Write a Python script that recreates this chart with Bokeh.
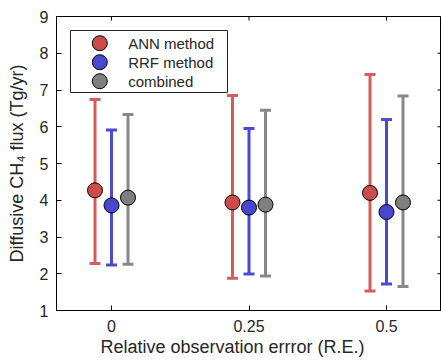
from bokeh.plotting import figure
from bokeh.models import (ColumnDataSource, FixedTicker, Range1d, BoxAnnotation, Title)
from bokeh.core.properties import value
from bokeh.transform import dodge
from bokeh.embed import file_html
from bokeh.resources import INLINE

# ---- data ----
re_values = [0.0, 0.25, 0.5]
xtick_labels = ["0", "0.25", "0.5"]
yticks = [1, 2, 3, 4, 5, 6, 7, 8, 9]
x_min, x_max = -0.1, 0.6
y_min, y_max = 1, 9

series_names = ["ANN method", "RRF method", "combined"]

ann_mean = [4.27, 3.94, 4.20]
ann_low = [2.28, 1.88, 1.53]
ann_high = [6.74, 6.85, 7.42]

rrf_mean = [3.86, 3.80, 3.68]
rrf_low = [2.24, 1.99, 1.72]
rrf_high = [5.91, 5.95, 6.20]

comb_mean = [4.07, 3.88, 3.94]
comb_low = [2.26, 1.94, 1.65]
comb_high = [6.33, 6.45, 6.84]

FONT = "Liberation Sans"
TXT = "#262626"
FW, FH = 385, 294

p = figure(frame_width=FW, frame_height=FH,
           x_range=Range1d(x_min, x_max), y_range=Range1d(y_min, y_max),
           output_backend="svg", toolbar_location=None,
           min_border_left=56, min_border_top=16, min_border_bottom=52, min_border_right=0)
p.grid.visible = False
p.outline_line_color = "black"
p.background_fill_color = "white"
p.border_fill_color = "white"

# pixel-like ranges for the hand-made legend (origin at frame top-left)
p.extra_x_ranges = {"lgx": Range1d(0, FW)}
p.extra_y_ranges = {"lgy": Range1d(FH, 0)}

series = [
    (ann_mean, ann_low, ann_high, -0.03, "#cc4b4b", "#d65c5c"),
    (rrf_mean, rrf_low, rrf_high, 0.0, "#4747cf", "#4b4bd2"),
    (comb_mean, comb_low, comb_high, 0.03, "#7f7f7f", "#888888"),
]

for mean, low, high, off, fill, barc in series:
    src = ColumnDataSource(dict(x=re_values, mean=mean, low=low, high=high))
    xd = dodge("x", off, range=p.x_range)
    p.segment(x0=xd, y0="low", x1=xd, y1="high", source=src, line_color=barc, line_width=3)
    p.scatter(x=xd, y="low", source=src, marker="dash", size=11, line_color=barc, line_width=3)
    p.scatter(x=xd, y="high", source=src, marker="dash", size=11, line_color=barc, line_width=3)
    p.scatter(x=xd, y="mean", source=src, marker="circle", size=15,
              fill_color=fill, line_color="black", line_width=1)

# inward ticks on the top and right edges (half of each dash is clipped away)
p.scatter(x=[x_max] * len(yticks), y=yticks, marker="dash", size=8,
          line_color="black", line_width=1)
p.scatter(x=re_values, y=[y_max] * len(re_values), marker="dash", angle=1.5708, size=8,
          line_color="black", line_width=1)

# axes
p.xaxis.ticker = FixedTicker(ticks=re_values)
p.xaxis.major_label_overrides = {v: s for v, s in zip(re_values, xtick_labels)}
p.yaxis.ticker = FixedTicker(ticks=yticks)
for ax in (p.xaxis[0], p.yaxis[0]):
    ax.major_tick_in = 5
    ax.major_tick_out = 0
    ax.minor_tick_in = 0
    ax.minor_tick_out = 0
    ax.axis_line_color = "black"
    ax.major_tick_line_color = "black"
    ax.major_label_text_font = FONT
    ax.major_label_text_font_size = "16px"
    ax.major_label_text_color = TXT
    ax.axis_label_text_font = FONT
    ax.axis_label_text_font_size = "18px"
    ax.axis_label_text_font_style = "normal"
    ax.axis_label_text_color = TXT
p.yaxis.axis_label = "Diffusive CH\u2084 flux (Tg/yr)"
p.xaxis.major_label_standoff = 9
p.yaxis.major_label_standoff = 8
p.yaxis.axis_label_standoff = 10

xlabel = Title(text="Relative observation errror (R.E.)", align="left", offset=44,
               text_font=FONT, text_font_size="18px", text_font_style="normal",
               text_color=TXT, standoff=0)
p.add_layout(xlabel, "below")

# legend
legend_box = BoxAnnotation(left=14, right=171, top=FH - 14, bottom=FH - 76,
                           left_units="screen", right_units="screen",
                           top_units="screen", bottom_units="screen",
                           fill_color="white", fill_alpha=1,
                           line_color=TXT, line_width=1, line_alpha=1,
                           level="underlay")
p.add_layout(legend_box)

lg_rows = [26.7, 45.7, 64.7]
lg_glyph_x = 43.3
lg_text_x = 71.7
legend_fills = ["#cc4b4b", "#4747cf", "#7f7f7f"]
p.scatter(x=[lg_glyph_x] * 3, y=lg_rows, x_range_name="lgx", y_range_name="lgy",
          marker="circle", size=15, fill_color=legend_fills, line_color="black", line_width=1)
p.text(x=[lg_text_x] * 3, y=lg_rows, text=series_names, x_range_name="lgx", y_range_name="lgy",
       text_font=value(FONT), text_font_size="15px", text_color=TXT,
       text_baseline="middle", text_align="left")

open("out.html", "w").write(file_html(p, INLINE))
